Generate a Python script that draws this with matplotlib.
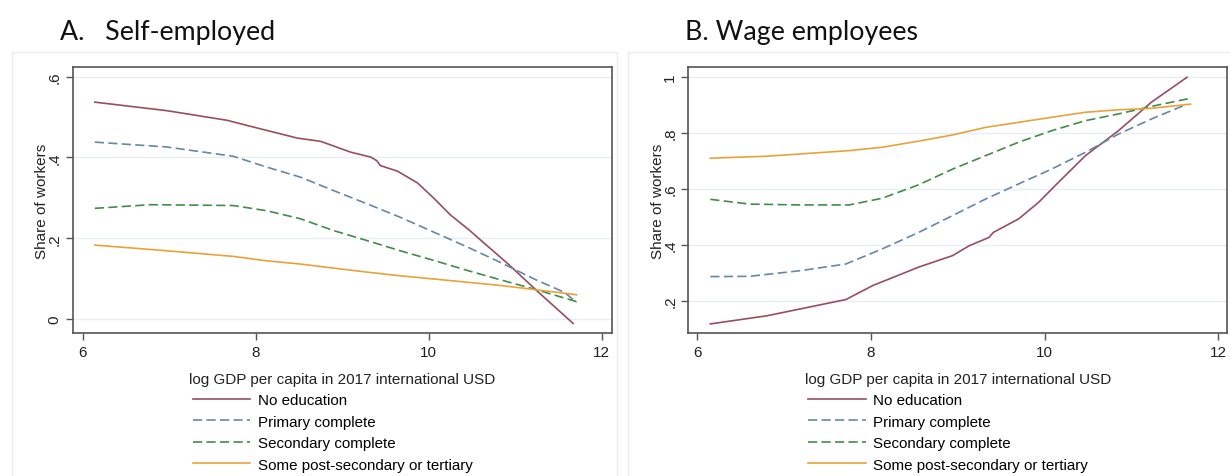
import matplotlib
matplotlib.use("Agg")
import matplotlib.pyplot as plt
from matplotlib.patches import Rectangle

plt.rcParams['font.family'] = ['Liberation Sans', 'DejaVu Sans']

# ---- series labels and styles ----
series_labels = ["No education", "Primary complete", "Secondary complete",
                 "Some post-secondary or tertiary"]

# ---- Panel A: self-employed ----
a_noedu_x = [6.14, 6.97, 7.67, 7.98, 8.48, 8.75, 9.10, 9.33, 9.40, 9.44, 9.64,
             9.87, 10.06, 10.25, 10.47, 10.64, 10.92, 11.24, 11.67]
a_noedu_y = [0.537, 0.516, 0.492, 0.475, 0.448, 0.440, 0.413, 0.401, 0.392, 0.380,
             0.366, 0.337, 0.299, 0.258, 0.220, 0.188, 0.136, 0.072, -0.011]
a_prim_x = [6.14, 6.97, 7.74, 8.13, 8.52, 8.90, 9.29, 9.67, 10.06, 10.45, 10.83,
            11.22, 11.57, 11.71]
a_prim_y = [0.438, 0.426, 0.403, 0.376, 0.351, 0.318, 0.285, 0.252, 0.215, 0.178,
            0.140, 0.099, 0.066, 0.041]
a_sec_x = [6.14, 6.78, 7.74, 8.13, 8.52, 8.90, 9.29, 9.67, 10.06, 10.45, 10.83,
           11.22, 11.71]
a_sec_y = [0.274, 0.283, 0.281, 0.268, 0.248, 0.219, 0.194, 0.169, 0.145, 0.120,
           0.097, 0.074, 0.043]
a_tert_x = [6.14, 6.97, 7.74, 8.13, 8.52, 8.90, 9.29, 9.67, 10.06, 10.45, 10.83,
            11.22, 11.71]
a_tert_y = [0.183, 0.169, 0.155, 0.144, 0.136, 0.126, 0.116, 0.107, 0.099, 0.091,
            0.083, 0.073, 0.060]

# ---- Panel B: wage employees ----
b_noedu_x = [6.15, 6.80, 7.71, 8.02, 8.55, 8.94, 9.13, 9.36, 9.41, 9.70, 9.93,
             10.16, 10.47, 10.85, 11.23, 11.64]
b_noedu_y = [0.117, 0.146, 0.204, 0.254, 0.320, 0.361, 0.396, 0.426, 0.444, 0.492,
             0.551, 0.623, 0.718, 0.807, 0.909, 0.998]
b_prim_x = [6.15, 6.60, 7.18, 7.71, 8.13, 8.55, 8.94, 9.32, 9.70, 10.08, 10.47,
            10.85, 11.23, 11.64]
b_prim_y = [0.286, 0.287, 0.307, 0.331, 0.385, 0.444, 0.504, 0.563, 0.617, 0.670,
            0.730, 0.795, 0.849, 0.902]
b_sec_x = [6.15, 6.60, 7.18, 7.75, 8.13, 8.55, 8.94, 9.32, 9.70, 10.08, 10.47,
           10.85, 11.23, 11.68]
b_sec_y = [0.562, 0.545, 0.542, 0.542, 0.566, 0.614, 0.670, 0.718, 0.766, 0.807,
           0.843, 0.867, 0.894, 0.923]
b_tert_x = [6.15, 6.80, 7.75, 8.13, 8.55, 8.94, 9.32, 9.70, 10.08, 10.47, 10.85,
            11.23, 11.68]
b_tert_y = [0.709, 0.716, 0.736, 0.748, 0.770, 0.792, 0.819, 0.837, 0.855, 0.873,
            0.882, 0.887, 0.902]

x_ticks = [6, 8, 10, 12]
a_yticks = [0, 0.2, 0.4, 0.6]
a_yticklabels = ["0", ".2", ".4", ".6"]
b_yticks = [0.2, 0.4, 0.6, 0.8, 1.0]
b_yticklabels = [".2", ".4", ".6", ".8", "1"]

colors = ["#974f5f", "#6687a8", "#428c48", "#e9a23b"]
dash = (5.5, 2.6)
styles = [dict(ls="-"), dict(ls=(0, dash)), dict(ls=(0, dash)), dict(ls="-")]

W, H = 1230, 477
fig = plt.figure(figsize=(W / 100, H / 100), dpi=100)


def px_box(x0, y0, x1, y1):
    return [x0 / W, 1 - y1 / H, (x1 - x0) / W, (y1 - y0) / H]


# light graph-region frames
for (x0, y0, x1, y1) in [(12, 53, 617, 480), (628, 53, 1232, 480)]:
    fig.add_artist(Rectangle((x0 / W, 1 - y1 / H), (x1 - x0) / W, (y1 - y0) / H,
                             transform=fig.transFigure, fill=False,
                             edgecolor="#ededed", lw=1.0))

panels = [
    dict(box=px_box(72.7, 68.3, 611.7, 334.0), xlim=(5.884, 12.116),
         ylim=(-0.0347, 0.6233), yticks=a_yticks, ytl=a_yticklabels,
         data=[(a_noedu_x, a_noedu_y), (a_prim_x, a_prim_y),
               (a_sec_x, a_sec_y), (a_tert_x, a_tert_y)],
         title="A.   Self-employed", tx=60),
    dict(box=px_box(688.3, 68.3, 1227.3, 334.0), xlim=(5.896, 12.104),
         ylim=(0.0846, 1.0336), yticks=b_yticks, ytl=b_yticklabels,
         data=[(b_noedu_x, b_noedu_y), (b_prim_x, b_prim_y),
               (b_sec_x, b_sec_y), (b_tert_x, b_tert_y)],
         title="B. Wage employees", tx=685),
]

for p in panels:
    ax = fig.add_axes(p["box"])
    ax.set_xlim(*p["xlim"])
    ax.set_ylim(*p["ylim"])
    for yt in p["yticks"]:
        ax.axhline(yt, color="#e9eef2", lw=1.0, zorder=0)
    handles = []
    for (xs, ys), c, st, lab in zip(p["data"], colors, styles, series_labels):
        h, = ax.plot(xs, ys, color=c, lw=1.2, label=lab, **st)
        handles.append(h)
    ax.set_xticks(x_ticks)
    ax.set_xticklabels([str(t) for t in x_ticks])
    ax.set_yticks(p["yticks"])
    ax.set_yticklabels(p["ytl"], rotation=90, va="center")
    ax.tick_params(axis="both", direction="out", length=5, width=1.0,
                   color="#555555", labelsize=11, labelcolor="#222222")
    ax.tick_params(axis="x", pad=4)
    ax.tick_params(axis="y", pad=3)
    for s in ax.spines.values():
        s.set_color("#555555")
        s.set_linewidth(1.2)
    ax.set_xlabel("log GDP per capita in 2017 international USD", fontsize=11,
                  color="#222222", labelpad=9)
    ax.set_ylabel("Share of workers", fontsize=11, color="#222222", labelpad=-1)
    left_px = p["box"][0] * W
    ax.legend(handles=handles, loc="upper left", frameon=False, fontsize=10.9,
              bbox_to_anchor=((left_px + 120) / W, 1 - 394 / H),
              bbox_transform=fig.transFigure, handlelength=3.8,
              handletextpad=0.5, labelspacing=0.5, borderpad=0,
              borderaxespad=0)
    fig.text(p["tx"] / W, 1 - 40 / H, p["title"], fontsize=19.3, family="Lato",
             ha="left", va="baseline", color="#111111")

fig.savefig("out.png", dpi=100)
